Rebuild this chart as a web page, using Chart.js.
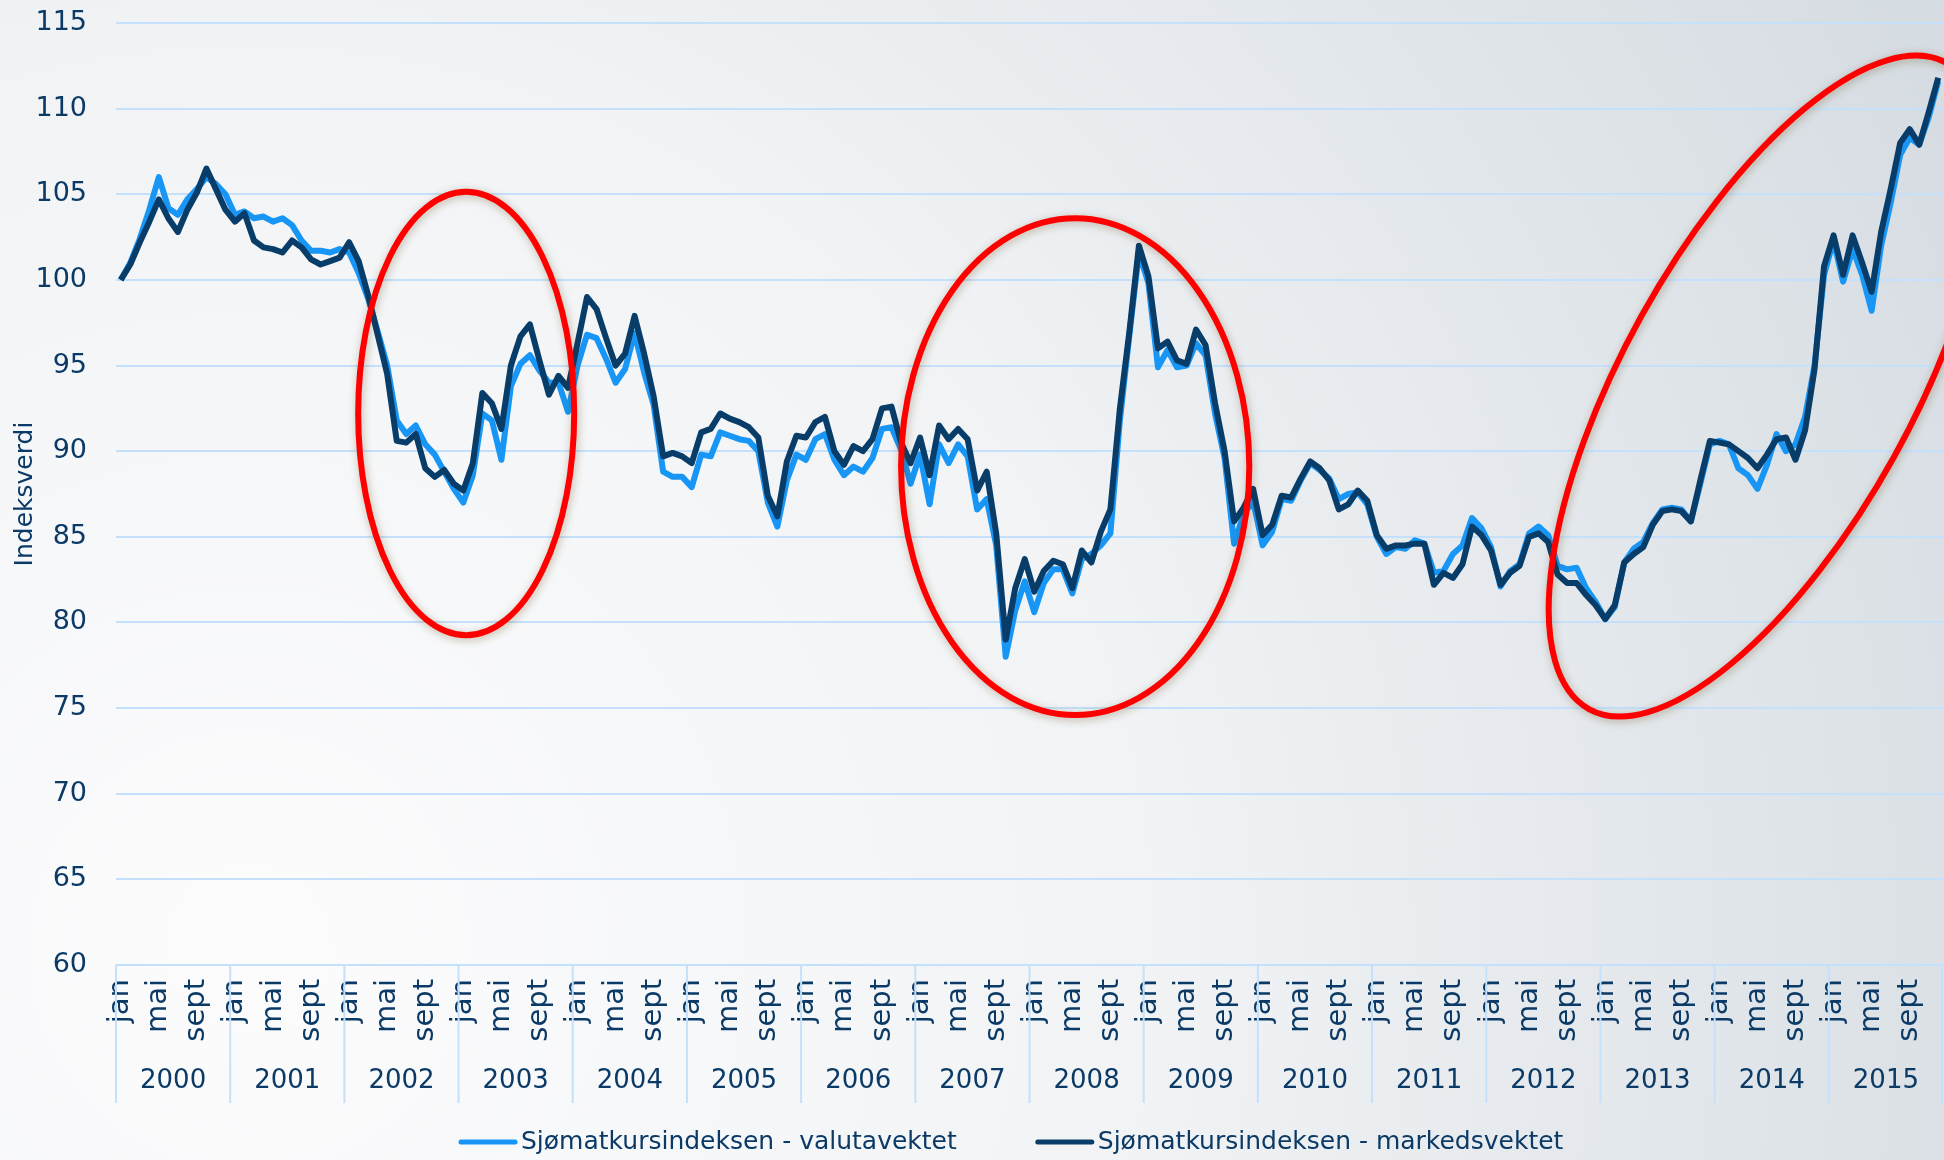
<!DOCTYPE html>
<html lang="no">
<head>
<meta charset="utf-8">
<title>Sjømatkursindeksen</title>
<script src="https://cdn.jsdelivr.net/npm/chart.js@4.4.1/dist/chart.umd.min.js"></script>
<style>
  html, body { margin: 0; padding: 0; background: #f4f6f8; }
  #wrap { position: relative; width: 1944px; height: 1160px; }
</style>
</head>
<body>
<div id="wrap"><canvas id="canvas"></canvas></div>
<script>
// Kategorier
const years = ['2000', '2001', '2002', '2003', '2004', '2005', '2006', '2007',
               '2008', '2009', '2010', '2011', '2012', '2013', '2014', '2015'];
const months = ['jan', 'feb', 'mar', 'apr', 'mai', 'jun', 'jul', 'aug', 'sept', 'okt', 'nov', 'des'];
const shownMonths = ['jan', 'mai', 'sept'];

// Y-akse
const yMin = 60;
const yMax = 115;
const yStep = 5;

// Sjømatkursindeksen - valutavektet (månedlig, jan 2000 - des 2015)
const valutavektet = [
  100.0, 101.0, 102.4, 104.1, 106.0, 104.2, 103.8, 104.7, 105.3, 106.0, 105.6, 105.0,
  103.8, 104.0, 103.6, 103.7, 103.4, 103.6, 103.2, 102.3, 101.7, 101.7, 101.6, 101.8,
  101.6, 100.4, 98.9, 97.0, 95.0, 91.8, 91.0, 91.5, 90.4, 89.8, 88.8, 87.8,
  87.0, 88.6, 92.2, 91.8, 89.5, 93.8, 95.1, 95.6, 94.7, 94.0, 94.0, 92.3,
  95.0, 96.8, 96.6, 95.4, 94.0, 94.8, 96.9, 94.6, 92.7, 88.8, 88.5, 88.5,
  87.9, 89.8, 89.7, 91.1, 90.9, 90.7, 90.6, 90.0, 87.0, 85.6, 88.3, 89.8,
  89.5, 90.7, 91.0, 89.5, 88.6, 89.1, 88.8, 89.6, 91.3, 91.4, 90.1, 88.1,
  89.8, 86.9, 90.4, 89.3, 90.4, 89.7, 86.6, 87.2, 84.5, 78.0, 80.7, 82.4,
  80.6, 82.3, 83.1, 83.1, 81.7, 83.7, 84.0, 84.5, 85.2, 91.8, 96.8, 101.6,
  99.8, 94.9, 95.9, 94.9, 95.0, 96.3, 95.6, 92.2, 89.6, 84.6, 86.3, 87.1,
  84.5, 85.3, 87.2, 87.1, 88.3, 89.3, 88.9, 88.4, 87.2, 87.5, 87.6, 86.9,
  85.0, 84.0, 84.4, 84.3, 84.8, 84.6, 82.9, 83.0, 84.0, 84.5, 86.1, 85.5,
  84.4, 82.1, 83.0, 83.4, 85.2, 85.6, 85.1, 83.3, 83.1, 83.2, 82.0, 81.2,
  80.2, 80.9, 83.5, 84.3, 84.7, 85.8, 86.6, 86.7, 86.6, 85.9, 88.1, 90.4,
  90.6, 90.4, 89.0, 88.6, 87.8, 89.2, 91.0, 90.0, 90.4, 92.0, 95.0, 100.3,
  102.3, 99.9, 101.8, 100.3, 98.2, 102.0, 104.5, 107.3, 108.3, 107.9, 109.5, 111.6
];

// Sjømatkursindeksen - markedsvektet
const markedsvektet = [
  100.0, 100.9, 102.2, 103.4, 104.7, 103.6, 102.8, 104.1, 105.1, 106.5, 105.3, 104.1,
  103.4, 103.9, 102.3, 101.9, 101.8, 101.6, 102.3, 101.9, 101.2, 100.9, 101.1, 101.3,
  102.2, 101.1, 99.1, 96.8, 94.5, 90.6, 90.5, 91.0, 89.0, 88.5, 88.9, 88.1,
  87.7, 89.3, 93.4, 92.8, 91.3, 95.0, 96.7, 97.4, 95.3, 93.3, 94.4, 93.7,
  96.3, 99.0, 98.3, 96.6, 95.0, 95.7, 97.9, 95.7, 93.2, 89.7, 89.9, 89.7,
  89.3, 91.1, 91.3, 92.2, 91.9, 91.7, 91.4, 90.8, 87.4, 86.2, 89.4, 90.9,
  90.8, 91.7, 92.0, 90.0, 89.2, 90.3, 90.0, 90.7, 92.5, 92.6, 90.5, 89.3,
  90.8, 88.6, 91.5, 90.7, 91.3, 90.7, 87.7, 88.8, 85.2, 79.0, 82.0, 83.7,
  81.8, 83.0, 83.6, 83.4, 82.0, 84.2, 83.5, 85.3, 86.6, 92.5, 97.0, 102.0,
  100.2, 96.0, 96.4, 95.3, 95.1, 97.1, 96.2, 92.8, 90.0, 85.9, 86.7, 87.8,
  85.1, 85.7, 87.4, 87.3, 88.4, 89.4, 89.0, 88.3, 86.6, 86.9, 87.7, 87.1,
  85.1, 84.3, 84.5, 84.5, 84.6, 84.6, 82.2, 82.9, 82.6, 83.4, 85.6, 85.1,
  84.2, 82.2, 82.9, 83.3, 85.0, 85.2, 84.7, 82.8, 82.3, 82.3, 81.6, 81.0,
  80.2, 81.0, 83.5, 84.0, 84.4, 85.7, 86.5, 86.6, 86.5, 85.9, 88.3, 90.6,
  90.5, 90.4, 90.0, 89.6, 89.0, 89.8, 90.7, 90.8, 89.5, 91.2, 94.8, 100.8,
  102.6, 100.3, 102.6, 101.0, 99.3, 102.8, 105.3, 108.0, 108.8, 107.9, 109.8, 111.8
];

// Røde ringer: sentrum i (månedsindeks, indeksverdi), radier i månedsbredder
const ringer = [
  { x: 36.3, y: 92.2, rx: 11.35, ry: 23.3, rot: 0 },
  { x: 100.3, y: 89.1, rx: 18.3, ry: 26.1, rot: 0 },
  { x: 173.1, y: 93.8, rx: 38.8, ry: 15.2, rot: -61 }
];

const FONT = "'Comic Sans MS', 'DejaVu Sans', sans-serif";
const textColor = '#0b3a66';
const gridColor = '#c4e0fa';

const labels = [];
years.forEach(y => months.forEach(m => labels.push(m + ' ' + y)));

// Bakgrunn med svak gradient
const bakgrunn = {
    id: 'bakgrunn',
    beforeDraw(chart) {
        const { ctx, width, height } = chart;
        const g = ctx.createRadialGradient(250, 950, 0, 250, 950, 2000);
        g.addColorStop(0, '#fcfcfd');
        g.addColorStop(0.45, '#f1f3f5');
        g.addColorStop(1, '#d3dae0');
        ctx.save();
        ctx.fillStyle = g;
        ctx.fillRect(0, 0, width, height);
        ctx.restore();
    }
};

// Årstall og skillelinjer under månedene
const aarAkse = {
    id: 'aarAkse',
    afterDraw(chart) {
        const { ctx, chartArea } = chart;
        const x = chart.scales.x;
        const half = (x.getPixelForValue(1) - x.getPixelForValue(0)) / 2;
        const bottom = chartArea.bottom + 138;
        ctx.save();
        ctx.strokeStyle = gridColor;
        ctx.lineWidth = 2;
        ctx.fillStyle = textColor;
        ctx.font = '26px ' + FONT;
        ctx.textAlign = 'center';
        ctx.textBaseline = 'middle';
        years.forEach((yr, i) => {
            const left = x.getPixelForValue(i * 12) - half;
            const right = x.getPixelForValue(i * 12 + 11) + half;
            ctx.beginPath();
            ctx.moveTo(left, chartArea.bottom);
            ctx.lineTo(left, bottom);
            ctx.stroke();
            if (i === years.length - 1) {
                ctx.beginPath();
                ctx.moveTo(right - 1, chartArea.bottom);
                ctx.lineTo(right - 1, bottom);
                ctx.stroke();
            }
            ctx.fillText(yr, (left + right) / 2, chartArea.bottom + 116);
        });
        ctx.restore();
    }
};

// Røde ellipser
const ringPlugin = {
    id: 'ringer',
    afterDatasetsDraw(chart) {
        const { ctx } = chart;
        const { x, y } = chart.scales;
        const unit = x.getPixelForValue(1) - x.getPixelForValue(0);
        ctx.save();
        ctx.strokeStyle = '#ff0000';
        ctx.lineWidth = 6;
        ctx.shadowColor = 'rgba(90, 60, 0, 0.35)';
        ctx.shadowBlur = 8;
        ctx.shadowOffsetX = 1;
        ctx.shadowOffsetY = 2;
        ringer.forEach(r => {
            ctx.beginPath();
            ctx.ellipse(x.getPixelForValue(r.x), y.getPixelForValue(r.y),
                        r.rx * unit, r.ry * unit, r.rot * Math.PI / 180, 0, 2 * Math.PI);
            ctx.stroke();
        });
        ctx.restore();
    }
};

// Forklaring nederst
const forklaring = {
    id: 'forklaring',
    afterDraw(chart) {
        const ctx = chart.ctx;
        const yPos = chart.height - 18;
        let xPos = 461;
        ctx.save();
        ctx.font = '25px ' + FONT;
        ctx.textBaseline = 'middle';
        chart.data.datasets.forEach(ds => {
            ctx.strokeStyle = ds.borderColor;
            ctx.lineWidth = 5;
            ctx.lineCap = 'round';
            ctx.beginPath();
            ctx.moveTo(xPos, yPos);
            ctx.lineTo(xPos + 54, yPos);
            ctx.stroke();
            ctx.fillStyle = textColor;
            ctx.fillText(ds.label, xPos + 60, yPos);
            xPos += 60 + ctx.measureText(ds.label).width + 81;
        });
        ctx.restore();
    }
};

const ctx = document.getElementById('canvas').getContext('2d');

new Chart(ctx, {
    type: 'line',
    data: {
        labels: labels,
        datasets: [{
            label: 'Sjømatkursindeksen - valutavektet',
            data: valutavektet,
            borderColor: '#1896f5',
            backgroundColor: '#1896f5',
            borderWidth: 6,
            pointRadius: 0,
            tension: 0,
            borderJoinStyle: 'round',
            order: 1
        }, {
            label: 'Sjømatkursindeksen - markedsvektet',
            data: markedsvektet,
            borderColor: '#083c69',
            backgroundColor: '#083c69',
            borderWidth: 6,
            pointRadius: 0,
            tension: 0,
            borderJoinStyle: 'round',
            order: 0
        }]
    },
    options: {
        responsive: true,
        maintainAspectRatio: false,
        animation: false,
        layout: {
            padding: { top: 23, right: 1, bottom: 49, left: 0 }
        },
        plugins: {
            legend: { display: false },
            tooltip: { enabled: false }
        },
        scales: {
            x: {
                type: 'category',
                offset: true,
                grid: { display: false, drawTicks: false },
                border: { display: false },
                ticks: {
                    autoSkip: false,
                    minRotation: 90,
                    maxRotation: 90,
                    padding: 14,
                    color: textColor,
                    font: { family: FONT, size: 29 },
                    callback: function(value, index) {
                        const m = months[index % 12];
                        return shownMonths.includes(m) ? m : null;
                    }
                },
                afterFit: function(scale) {
                    scale.height = 146;
                    scale.paddingLeft = 0;
                    scale.paddingRight = 0;
                }
            },
            y: {
                min: yMin,
                max: yMax,
                ticks: {
                    stepSize: yStep,
                    padding: 29,
                    color: textColor,
                    font: { family: FONT, size: 27 }
                },
                grid: { color: gridColor, lineWidth: 2, drawTicks: false },
                border: { display: false },
                title: {
                    display: true,
                    text: 'Indeksverdi',
                    color: textColor,
                    font: { family: FONT, size: 25 },
                    padding: { top: 10, bottom: 0 }
                },
                afterFit: function(scale) {
                    scale.width = 116;
                    scale.paddingTop = 0;
                    scale.paddingBottom = 0;
                }
            }
        }
    },
    plugins: [bakgrunn, aarAkse, ringPlugin, forklaring]
});
</script>
</body>
</html>
